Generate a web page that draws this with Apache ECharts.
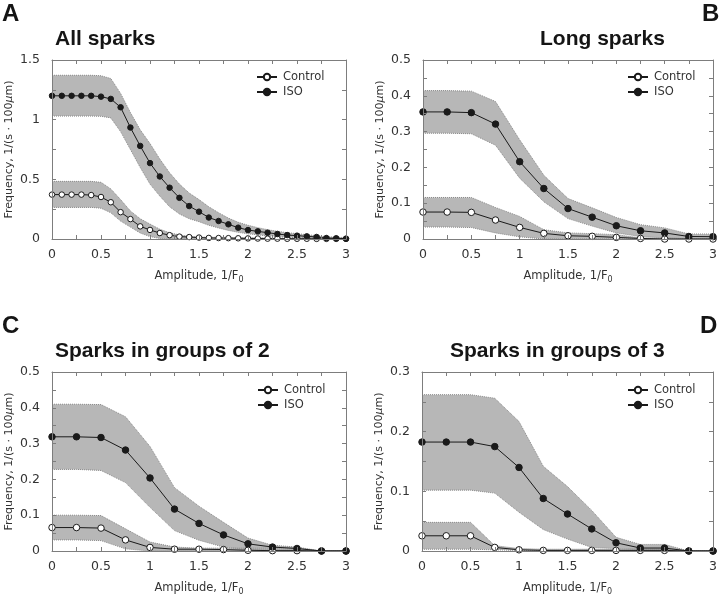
<!DOCTYPE html>
<html>
<head>
<meta charset="utf-8">
<script src="https://cdn.jsdelivr.net/npm/echarts@6/dist/echarts.min.js"></script>
<style>html,body{margin:0;padding:0;background:#fff;}#c{width:720px;height:597px;}</style>
</head>
<body>
<div id="c"></div>
<script>
// ---------- data ----------
const xFine = [0,0.1,0.2,0.3,0.4,0.5,0.6,0.7,0.8,0.9,1.0,1.1,1.2,1.3,1.4,1.5,1.6,1.7,1.8,1.9,2.0,2.1,2.2,2.3,2.4,2.5,2.6,2.7,2.8,2.9,3.0];
const xCoarse = [0,0.25,0.5,0.75,1.0,1.25,1.5,1.75,2.0,2.25,2.5,2.75,3.0];

// Panel A: All sparks
const A_iso      = [1.20,1.20,1.20,1.20,1.20,1.193,1.174,1.104,0.934,0.78,0.636,0.524,0.43,0.345,0.276,0.229,0.18,0.151,0.123,0.095,0.075,0.064,0.053,0.042,0.033,0.028,0.022,0.017,0.008,0.006,0.003];
const A_isoUpper = [1.372,1.372,1.372,1.372,1.372,1.368,1.345,1.22,1.06,0.915,0.80,0.67,0.555,0.46,0.385,0.33,0.27,0.22,0.175,0.14,0.115,0.095,0.078,0.064,0.053,0.045,0.036,0.028,0.02,0.015,0.012];
const A_isoLower = [1.03,1.03,1.03,1.03,1.03,1.028,1.015,0.90,0.75,0.60,0.46,0.36,0.27,0.21,0.17,0.145,0.115,0.092,0.072,0.056,0.043,0.035,0.025,0.02,0.015,0.011,0.008,0.005,0.002,0.001,0];
const A_ctl      = [0.372,0.372,0.372,0.372,0.368,0.352,0.308,0.225,0.167,0.106,0.076,0.05,0.032,0.02,0.016,0.012,0.009,0.008,0.007,0.006,0.005,0.004,0.003,0.003,0.002,0.002,0.002,0.001,0.001,0.001,0.001];
const A_ctlUpper = [0.483,0.483,0.483,0.483,0.483,0.475,0.42,0.33,0.235,0.17,0.125,0.082,0.052,0.034,0.022,0.017,0.015,0.014,0.013,0.012,0.011,0.01,0.009,0.008,0.007,0.006,0.005,0.004,0.003,0.003,0.002];
const A_ctlLower = [0.265,0.265,0.265,0.265,0.265,0.258,0.22,0.15,0.10,0.05,0.02,0.005,0,0,0,0,0,0,0,0,0,0,0,0,0,0,0,0,0,0,0];

// Panel B: Long sparks
const B_iso      = [0.355,0.355,0.353,0.321,0.216,0.141,0.085,0.061,0.037,0.023,0.017,0.007,0.0065];
const B_isoUpper = [0.4145,0.4145,0.413,0.384,0.277,0.178,0.113,0.087,0.060,0.040,0.031,0.014,0.014];
const B_isoLower = [0.2955,0.2955,0.294,0.262,0.170,0.104,0.057,0.036,0.017,0.007,0.003,0.001,0.001];
const B_ctl      = [0.0753,0.0753,0.0744,0.053,0.0324,0.0157,0.009,0.0075,0.0045,0.0015,0,0,0];
const B_ctlUpper = [0.116,0.116,0.116,0.088,0.063,0.026,0.017,0.015,0.012,0.003,0.002,0.001,0.001];
const B_ctlLower = [0.0334,0.0334,0.032,0.017,0.006,0,0,0,0,0,0,0,0];

// Panel C: Sparks in groups of 2
const C_iso      = [0.319,0.319,0.317,0.282,0.204,0.117,0.077,0.045,0.020,0.011,0.007,0,0];
const C_isoUpper = [0.41,0.41,0.409,0.375,0.292,0.177,0.125,0.080,0.036,0.016,0.011,0,0];
const C_isoLower = [0.228,0.228,0.225,0.191,0.122,0.057,0.030,0.011,0.004,0.003,0.003,0,0];
const C_ctl      = [0.0655,0.0655,0.064,0.031,0.010,0.005,0.005,0.004,0.002,0.001,0.001,0,0];
const C_ctlUpper = [0.10,0.10,0.099,0.062,0.025,0.011,0.008,0.008,0.008,0.008,0.008,0,0];
const C_ctlLower = [0.031,0.031,0.029,0.006,0,0,0,0,0,0,0,0,0];

// Panel D: Sparks in groups of 3
const D_iso      = [0.1826,0.1826,0.1826,0.175,0.140,0.088,0.062,0.037,0.0138,0.005,0.005,0,0];
const D_isoUpper = [0.262,0.262,0.262,0.256,0.217,0.142,0.108,0.068,0.023,0.011,0.011,0,0];
const D_isoLower = [0.102,0.102,0.102,0.097,0.065,0.036,0.020,0.006,0.004,0.003,0.003,0,0];
const D_ctl      = [0.0255,0.0255,0.0255,0.006,0.002,0.001,0.001,0.001,0.001,0.001,0.001,0,0];
const D_ctlUpper = [0.048,0.048,0.048,0.009,0.004,0.003,0.003,0.003,0.003,0.003,0.003,0,0];
const D_ctlLower = [0.003,0.003,0.003,0.002,0.001,0,0,0,0,0,0,0,0];

const titles = ['All sparks','Long sparks','Sparks in groups of 2','Sparks in groups of 3'];
const letters = ['A','B','C','D'];
const legendNames = ['Control','ISO'];
const xTickLabels = ['0','0.5','1','1.5','2','2.5','3'];

// ---------- layout / style ----------
const panels = [
  {x: xFine,   iso: A_iso, isoU: A_isoUpper, isoL: A_isoLower, ctl: A_ctl, ctlU: A_ctlUpper, ctlL: A_ctlLower, ymax: 1.5, yint: 0.25, ystep: 0.5,
   grid: {left: 52, top: 60, width: 294, height: 179}, sym: 5.5,
   title: {x: 55, y: 39}, letter: {x: 2, y: 14}, legend: {left: 256, top: 71}},
  {x: xCoarse, iso: B_iso, isoU: B_isoUpper, isoL: B_isoLower, ctl: B_ctl, ctlU: B_ctlUpper, ctlL: B_ctlLower, ymax: 0.5, yint: 0.05, ystep: 0.1,
   grid: {left: 423, top: 60, width: 293, height: 179}, sym: 6.5,
   title: {x: 540, y: 39}, letter: {x: 702, y: 14}, legend: {left: 627, top: 71}},
  {x: xCoarse, iso: C_iso, isoU: C_isoUpper, isoL: C_isoLower, ctl: C_ctl, ctlU: C_ctlUpper, ctlL: C_ctlLower, ymax: 0.5, yint: 0.05, ystep: 0.1,
   grid: {left: 52, top: 372, width: 294, height: 180}, sym: 6.5,
   title: {x: 55, y: 351}, letter: {x: 2, y: 326}, legend: {left: 257, top: 384}},
  {x: xCoarse, iso: D_iso, isoU: D_isoUpper, isoL: D_isoLower, ctl: D_ctl, ctlU: D_ctlUpper, ctlL: D_ctlLower, ymax: 0.3, yint: 0.05, ystep: 0.1,
   grid: {left: 422, top: 372, width: 294, height: 180}, sym: 6.5,
   title: {x: 450, y: 351}, letter: {x: 700, y: 326}, legend: {left: 627, top: 384}}
];

const AX = '#7d7d7d';
const BAND = '#b7b7b7';
const BAND_EDGE = '#8a8a8a';
const LINE = '#1a1a1a';
const TXT = '#333';
const FONT = 'DejaVu Sans';

const zip = (xs, ys) => xs.map((x, i) => [x, ys[i]]);
const isMult = (v, s) => Math.abs(v / s - Math.round(v / s)) < 1e-6;
const fmt = v => String(parseFloat(v.toFixed(3)));

const grids = [], xAxes = [], yAxes = [], series = [], legends = [], graphics = [];

panels.forEach((p, i) => {
  grids.push(Object.assign({containLabel: false}, p.grid));
  const common = {min: 0, z: 10, splitLine: {show: false}, axisLine: {show: true, onZero: false, lineStyle: {color: AX, width: 1}},
                  axisTick: {show: true, inside: true, length: 4, lineStyle: {color: AX}}};
  xAxes.push(Object.assign({}, common, {type: 'value', gridIndex: i, position: 'bottom', max: 3, interval: 0.25,
    axisLabel: {show: true, margin: 9, color: TXT, fontFamily: FONT, fontSize: 12.5,
      formatter: v => isMult(v, 0.5) ? xTickLabels[Math.round(v / 0.5)] : ''},
    name: 'Amplitude, 1/F{sub|0}', nameLocation: 'middle', nameGap: 29,
    nameTextStyle: {color: TXT, fontFamily: FONT, fontSize: 11.5, lineHeight: 16,
      rich: {sub: {fontSize: 8, fontFamily: FONT, color: TXT, verticalAlign: 'bottom', lineHeight: 12}}}}));
  xAxes.push(Object.assign({}, common, {type: 'value', gridIndex: i, position: 'top', max: 3, interval: 0.25, axisLabel: {show: false}}));
  yAxes.push(Object.assign({}, common, {type: 'value', gridIndex: i, position: 'left', max: p.ymax, interval: p.yint,
    axisLabel: {show: true, margin: 12, color: TXT, fontFamily: FONT, fontSize: 12.5,
      formatter: v => isMult(v, p.ystep) ? fmt(v) : ''},
    name: 'Frequency, 1/(s · 100{mu|μ}m)', nameLocation: 'middle', nameGap: 37, nameRotate: 90,
    nameTextStyle: {color: TXT, fontFamily: FONT, fontSize: 11,
      rich: {mu: {fontStyle: 'italic', fontFamily: FONT, fontSize: 11, color: TXT}}}}));
  yAxes.push(Object.assign({}, common, {type: 'value', gridIndex: i, position: 'right', max: p.ymax, interval: p.yint, axisLabel: {show: false}}));

  const xi = 2 * i, yi = 2 * i;
  const band = (lower, upper, key) => {
    const rows = p.x.map((x, k) => [x, lower[k], upper[k]]);
    series.push({type: 'custom', name: 'band' + key, xAxisIndex: xi, yAxisIndex: yi, silent: true, z: 1,
      data: rows, encode: {x: 0, y: [1, 2]}, clip: true,
      renderItem: (params, api) => {
        if (params.dataIndex !== 0) return null;
        const pts = [];
        rows.forEach(r => pts.push(api.coord([r[0], r[2]])));
        for (let k = rows.length - 1; k >= 0; k--) pts.push(api.coord([rows[k][0], rows[k][1]]));
        return {type: 'polygon', shape: {points: pts}, style: {fill: BAND, stroke: null}};
      }});
    series.push({type: 'line', name: 'band' + key + 'L', xAxisIndex: xi, yAxisIndex: yi,
      data: zip(p.x, lower), symbol: 'none', silent: true, z: 2,
      lineStyle: {color: BAND_EDGE, width: 1, type: 'dotted'}});
    series.push({type: 'line', name: 'band' + key + 'U', xAxisIndex: xi, yAxisIndex: yi,
      data: zip(p.x, upper), symbol: 'none', silent: true, z: 2,
      lineStyle: {color: BAND_EDGE, width: 1, type: 'dotted'}});
  };
  band(p.ctlL, p.ctlU, i + 'c');
  band(p.isoL, p.isoU, i + 'i');

  series.push({type: 'line', name: 'Control', xAxisIndex: xi, yAxisIndex: yi, data: zip(p.x, p.ctl),
    symbol: 'circle', symbolSize: p.sym, z: 3, lineStyle: {color: LINE, width: 1},
    itemStyle: {color: '#fff', borderColor: LINE, borderWidth: 1}});
  series.push({type: 'line', name: 'ISO', xAxisIndex: xi, yAxisIndex: yi, data: zip(p.x, p.iso),
    symbol: 'circle', symbolSize: p.sym, z: 4, lineStyle: {color: LINE, width: 1},
    itemStyle: {color: LINE, borderColor: LINE, borderWidth: 1}});

  legends.push({data: legendNames, orient: 'vertical', left: p.legend.left, top: p.legend.top,
    itemWidth: 20, itemHeight: 8, itemGap: 3, selectedMode: false, padding: 0,
    textStyle: {color: TXT, fontFamily: FONT, fontSize: 11.5, padding: [0, 0, 0, 1]}});

  graphics.push({type: 'text', x: p.title.x, y: p.title.y, silent: true,
    style: {text: titles[i], font: 'bold 21px "Liberation Sans"', fill: '#151515', textAlign: 'left', textVerticalAlign: 'middle'}});
  graphics.push({type: 'text', x: p.letter.x, y: p.letter.y, silent: true,
    style: {text: letters[i], font: 'bold 24px "Liberation Sans"', fill: '#151515', textAlign: 'left', textVerticalAlign: 'middle'}});
});

const chart = echarts.init(document.getElementById('c'), null, {renderer: 'canvas'});
chart.setOption({
  animation: false,
  backgroundColor: '#fff',
  grid: grids, xAxis: xAxes, yAxis: yAxes, series: series, legend: legends, graphic: graphics
});
</script>
</body>
</html>
